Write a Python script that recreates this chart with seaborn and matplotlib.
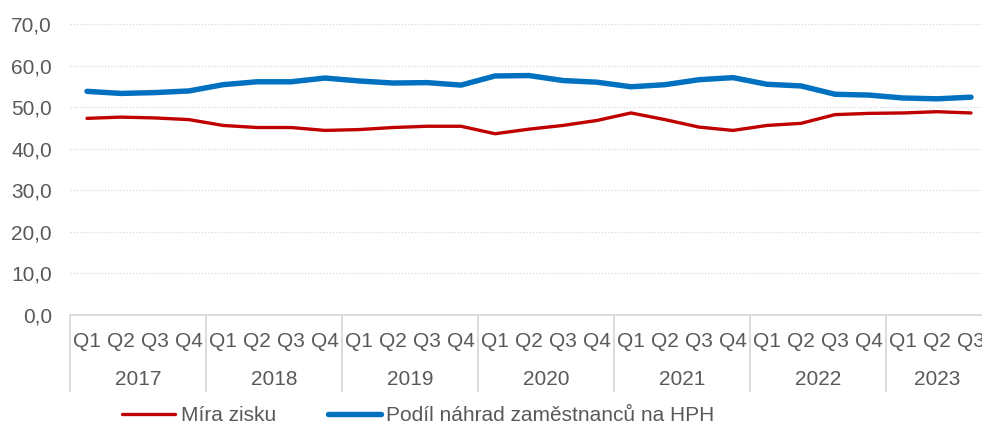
import pandas as pd
import seaborn as sns
import matplotlib.pyplot as plt

# Chart data
years = ['2017', '2018', '2019', '2020', '2021', '2022', '2023']
quarters = ['Q1', 'Q2', 'Q3', 'Q4'] * 6 + ['Q1', 'Q2', 'Q3']
mira_zisku = [47.3, 47.6, 47.4, 47.0, 45.6, 45.1, 45.1, 44.4, 44.6, 45.1, 45.4, 45.4,
              43.6, 44.7, 45.6, 46.8, 48.6, 47.0, 45.2, 44.4, 45.6, 46.1, 48.2, 48.5,
              48.6, 48.9, 48.6]
podil_nahrad = [53.8, 53.3, 53.5, 53.9, 55.4, 56.1, 56.1, 57.0, 56.3, 55.8, 55.9, 55.3,
                57.5, 57.6, 56.4, 56.0, 54.9, 55.4, 56.6, 57.1, 55.5, 55.1, 53.1, 52.9,
                52.2, 52.0, 52.4]
y_ticks = [0, 10, 20, 30, 40, 50, 60, 70]

df = pd.DataFrame({'pos': range(len(quarters)),
                   'quarter': quarters,
                   'mira': mira_zisku,
                   'podil': podil_nahrad})

sns.set_theme(style="white")
plt.rcParams['font.family'] = ['Liberation Sans', 'DejaVu Sans']
text_col = '#595959'
grid_col = '#D9D9D9'
fs = 15

fig = plt.figure(figsize=(9.82, 4.25), dpi=100)
ax = fig.add_axes([70 / 982, 110 / 425, 918 / 982, 291 / 425])

sns.lineplot(data=df, x='pos', y='mira', ax=ax, color='#C00000', linewidth=2.4,
             label='Míra zisku', solid_capstyle='round')
sns.lineplot(data=df, x='pos', y='podil', ax=ax, color='#0070C0', linewidth=3.9,
             label='Podíl náhrad zaměstnanců na HPH', solid_capstyle='round')

ax.set_xlim(-0.5, len(quarters) - 0.5)
ax.set_ylim(0, 70)
ax.set_yticks(y_ticks)
ax.set_yticklabels([f'{v:.1f}'.replace('.', ',') for v in y_ticks])
ax.tick_params(axis='y', length=0, pad=13, labelsize=fs, labelcolor=text_col)
ax.set_xticks([])
ax.set_xlabel('')
ax.set_ylabel('')

# dotted gridlines
for v in y_ticks[1:]:
    ax.axhline(v, color=grid_col, linestyle=(0, (1, 1.5)), linewidth=0.9, zorder=0)

for s in ['top', 'right', 'left']:
    ax.spines[s].set_visible(False)
ax.spines['bottom'].set_color(grid_col)
ax.spines['bottom'].set_linewidth(1.3)

# quarter and year labels
xt = ax.get_xaxis_transform()
for i, q in enumerate(quarters):
    ax.text(i, -0.092, q, transform=xt, ha='center', va='center', fontsize=fs,
            color=text_col)
for j, y in enumerate(years):
    start = j * 4 - 0.5
    end = min(start + 4, len(quarters) - 0.5)
    ax.text((start + end) / 2, -0.221, y, transform=xt, ha='center', va='center',
            fontsize=fs, color=text_col)
ax.vlines([j * 4 - 0.5 for j in range(len(years))], -0.265, 0, transform=xt,
          colors=grid_col, linewidth=1.3, clip_on=False)

handles, labels = ax.get_legend_handles_labels()
ax.get_legend().remove()
fig.legend(handles, labels, loc='center', bbox_to_anchor=(0.426, 0.022), ncol=2,
           frameon=False, fontsize=fs, labelcolor=text_col, handlelength=2.55,
           handletextpad=0.25, columnspacing=2.5, borderpad=0)

plt.savefig('out.png', dpi=100)
